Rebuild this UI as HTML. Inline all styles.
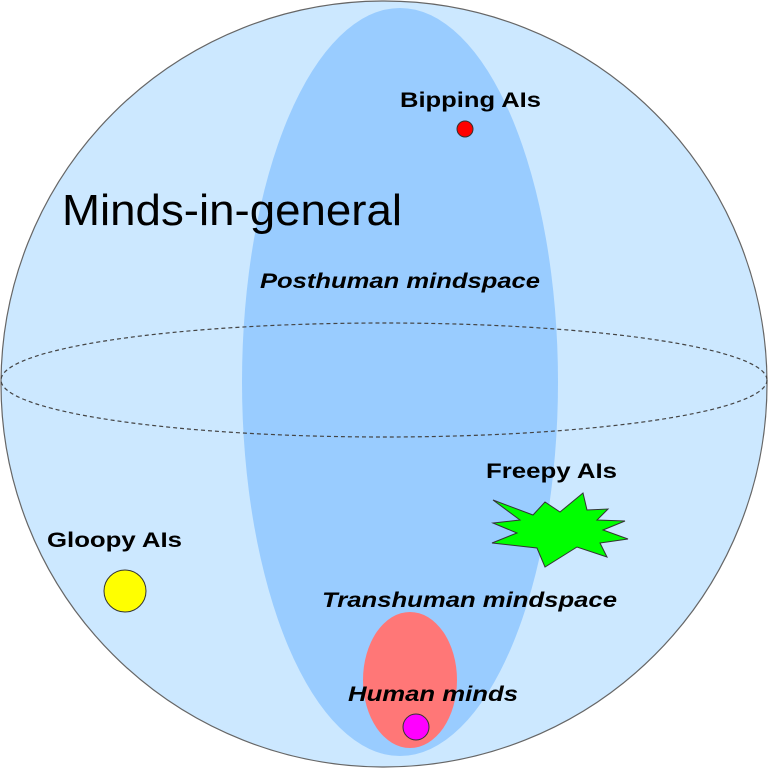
<!DOCTYPE html>
<html><head><meta charset="utf-8"><style>
html,body{margin:0;padding:0;background:#fff}
svg{display:block}
text{font-family:"Liberation Sans",Arial,sans-serif}
.b{font-weight:bold;font-size:21px}
.bi{font-weight:bold;font-style:italic;font-size:21px}
</style></head><body>
<svg width="768" height="768" viewBox="0 0 768 768">
<circle cx="384" cy="384" r="383" fill="#cce8ff" stroke="#666" stroke-width="1.2"/>
<ellipse cx="400" cy="382" rx="158" ry="374" fill="#99ccff"/>
<ellipse cx="384" cy="380" rx="383" ry="57" fill="none" stroke="#444" stroke-width="1.2" stroke-dasharray="4,3"/>
<ellipse cx="410" cy="680" rx="47" ry="68" fill="#ff7777"/>
<circle cx="416" cy="727" r="13" fill="#ff00ff" stroke="#333" stroke-width="1"/>
<circle cx="465" cy="129" r="8" fill="#ff0000" stroke="#333" stroke-width="1"/>
<circle cx="125" cy="591" r="21" fill="#ffff00" stroke="#333" stroke-width="1"/>
<polygon points="493,500 533,515 545,502 560,512 583,493 587,510 608,509 597,520 625,521 603,530 628,539 600,543 607,557 577,547 545,567 537,548 492,543 517,533 493,523 520,520" fill="#00ff00" stroke="#333" stroke-width="1"/>
<text x="62" y="225" font-size="44" textLength="340" lengthAdjust="spacingAndGlyphs">Minds-in-general</text>
<text x="400" y="107" class="b" textLength="141" lengthAdjust="spacingAndGlyphs">Bipping AIs</text>
<text x="260" y="288" class="bi" textLength="280" lengthAdjust="spacingAndGlyphs">Posthuman mindspace</text>
<text x="486" y="478" class="b" textLength="131" lengthAdjust="spacingAndGlyphs">Freepy AIs</text>
<text x="47" y="547" class="b" textLength="135" lengthAdjust="spacingAndGlyphs">Gloopy AIs</text>
<text x="322" y="607" class="bi" textLength="295" lengthAdjust="spacingAndGlyphs">Transhuman mindspace</text>
<text x="348" y="701" class="bi" textLength="170" lengthAdjust="spacingAndGlyphs">Human minds</text>
</svg>
</body></html>
